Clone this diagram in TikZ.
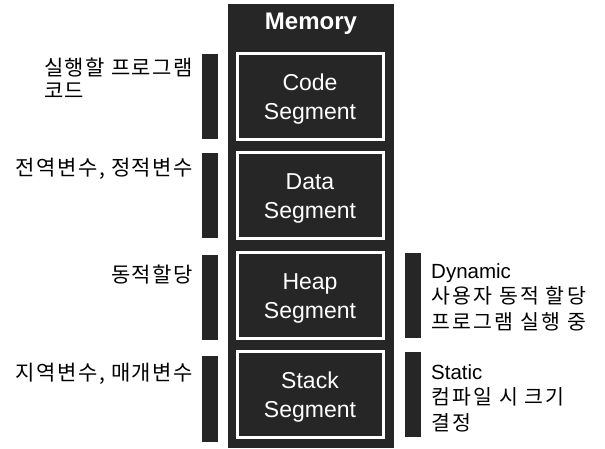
\documentclass[tikz,border=0pt]{standalone}
\usepackage{fontspec}
\setmainfont{Liberation Sans}
\newfontfamily\kr[LetterSpace=7]{Noto Sans CJK KR}
\newfontfamily\krr[LetterSpace=11]{Noto Sans CJK KR}
\definecolor{dark}{HTML}{262626}
\begin{document}
\begin{tikzpicture}[x=1pt,y=-1pt,
  seg/.style={draw=white,line width=3pt,fill=dark,minimum width=146pt,minimum height=86pt,inner sep=0pt},
  segtxt/.style={inner sep=0pt,text=white,align=center,font=\fontsize{23}{29}\selectfont},
  bar/.style={fill=dark,draw=none},
  lab/.style={inner sep=0pt,text=black,font=\kr\fontsize{21}{23}\selectfont},
  rlab/.style={inner sep=0pt,text=black,align=left,anchor=north west,font=\fontsize{20.5}{25.5}\selectfont}]
\useasboundingbox (0,0) rectangle (605,448);
\fill[dark] (228,4) rectangle (394,448);
\node[inner sep=0pt,text=white,font=\bfseries\fontsize{24}{25}\selectfont] (mem) at (311,24) {Memory};
\node[seg] (code) at (310,96) {};
\node[seg] (data) at (310,195) {};
\node[seg] (heap) at (310,295) {};
\node[seg] (stack) at (310,394) {};
\node[segtxt] (tcode) at ([yshift=-3pt]code.center) {Code\\Segment};
\node[segtxt] (tdata) at ([yshift=-3pt]data.center) {Data\\Segment};
\node[segtxt] (theap) at ([yshift=-3pt]heap.center) {Heap\\Segment};
\node[segtxt] (tstack) at ([yshift=-3pt]stack.center) {Stack\\Segment};
\fill[bar] (202,54) rectangle (218,139);
\fill[bar] (202,153) rectangle (218,238);
\fill[bar] (202,255) rectangle (218,340);
\fill[bar] (202,356) rectangle (218,442);
\fill[bar] (405,253) rectangle (421,338);
\fill[bar] (405,352) rectangle (421,437);
\node[lab,align=left,anchor=east] (lcode) at (193,78) {실행할 프로그램\\코드};
\node[lab,anchor=east] (ldata) at (193,169) {전역변수, 정적변수};
\node[lab,anchor=east] (lheap) at (193,275) {동적할당};
\node[lab,anchor=east] (lstack) at (193,374) {지역변수, 매개변수};
\node[rlab] (rheap) at (431,263) {Dynamic\\{\krr 사용자 동적 할당}\\{\krr 프로그램 실행 중}};
\node[rlab] (rstack) at (431,364) {Static\\{\krr 컴파일 시 크기}\\{\krr 결정}};
\end{tikzpicture}
\end{document}
